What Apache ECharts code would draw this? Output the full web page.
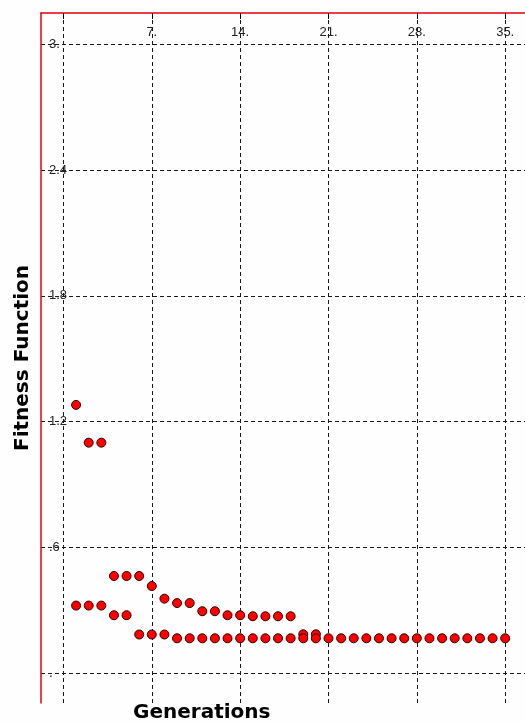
<!DOCTYPE html>
<html>
<head>
<meta charset="utf-8">
<script src="https://cdn.jsdelivr.net/npm/echarts@6/dist/echarts.min.js"></script>
<style>
  html, body { margin: 0; padding: 0; background: #fefefe; }
  #chart { width: 525px; height: 724px; }
</style>
</head>
<body>
<div id="chart"></div>
<script>
// Fitness per generation: two populations of points
const upperGenerations = [1, 2, 3, 4, 5, 6, 7, 8, 9, 10, 11, 12, 13, 14, 15, 16, 17, 18, 19, 20];
const upperFitness = [1.28, 1.10, 1.10, 0.464, 0.464, 0.464, 0.416, 0.356, 0.335, 0.335,
                      0.296, 0.296, 0.277, 0.277, 0.272, 0.272, 0.272, 0.272, 0.186, 0.186];

const lowerGenerations = [1, 2, 3, 4, 5, 6, 7, 8, 9, 10, 11, 12, 13, 14, 15, 16, 17, 18,
                          19, 20, 21, 22, 23, 24, 25, 26, 27, 28, 29, 30, 31, 32, 33, 34, 35];
const lowerFitness = [0.323, 0.323, 0.323, 0.277, 0.277, 0.185, 0.185, 0.185, 0.167, 0.167,
                      0.167, 0.167, 0.167, 0.167, 0.167, 0.167, 0.167, 0.167, 0.167, 0.167,
                      0.167, 0.167, 0.167, 0.167, 0.167, 0.167, 0.167, 0.167, 0.167, 0.167,
                      0.167, 0.167, 0.167, 0.167, 0.167];

// Axis ticks and their printed labels
const xTicks = [0, 7, 14, 21, 28, 35];
const xTickLabels = ['', '7.', '14.', '21.', '28.', '35.'];
const yTicks = [0, 0.6, 1.2, 1.8, 2.4, 3];
const yTickLabels = ['.', '.6', '1.2', '1.8', '2.4', '3.'];

function labelFor(ticks, labels) {
  return function (v) {
    let best = 0;
    for (let i = 1; i < ticks.length; i++) {
      if (Math.abs(ticks[i] - v) < Math.abs(ticks[best] - v)) best = i;
    }
    return labels[best];
  };
}

function pairs(xs, ys) {
  return xs.map((x, i) => [x, ys[i]]);
}

const axisRed = '#e3000f';
const gridDash = { color: '#1a1a1a', width: 1, type: [4, 3] };
const markerStyle = { color: '#ff0000', borderColor: '#300000', borderWidth: 1, opacity: 1 };

const chart = echarts.init(document.getElementById('chart'), null, { renderer: 'canvas' });
chart.setOption({
  animation: false,
  backgroundColor: '#fefefe',
  title: {
    text: 'Generations',
    left: 133,
    top: 703,
    padding: 0,
    textStyle: { fontFamily: 'DejaVu Sans', fontWeight: 'bold', fontSize: 20, color: '#000' }
  },
  grid: { left: 41, top: 13, right: 0, bottom: 21, containLabel: false },
  xAxis: {
    type: 'value',
    position: 'top',
    min: -1.78,
    max: 36.57,
    axisLine: { show: true, onZero: false, lineStyle: { color: axisRed, width: 1.5 } },
    axisTick: { show: true, inside: true, length: 6, customValues: xTicks, lineStyle: { color: '#000' } },
    axisLabel: {
      show: true, inside: true, margin: 13, customValues: xTicks,
      formatter: labelFor(xTicks, xTickLabels),
      fontFamily: 'Liberation Sans', fontSize: 13, color: '#222'
    },
    splitLine: { show: true, lineStyle: gridDash }
  },
  yAxis: {
    type: 'value',
    min: -0.1416,
    max: 3.149,
    name: 'Fitness Function',
    nameLocation: 'middle',
    nameGap: 8,
    nameRotate: 90,
    nameTextStyle: { fontFamily: 'DejaVu Sans', fontWeight: 'bold', fontSize: 20, color: '#000' },
    axisLine: { show: true, onZero: false, lineStyle: { color: axisRed, width: 1.5 } },
    axisTick: { show: false, customValues: yTicks },
    axisLabel: {
      show: true, inside: true, margin: 8, customValues: yTicks,
      formatter: labelFor(yTicks, yTickLabels),
      fontFamily: 'Liberation Sans', fontSize: 13, color: '#222'
    },
    splitLine: { show: true, lineStyle: gridDash }
  },
  series: [
    {
      name: 'upper',
      type: 'scatter',
      symbol: 'circle',
      symbolSize: 9,
      itemStyle: markerStyle,
      data: pairs(upperGenerations, upperFitness)
    },
    {
      name: 'lower',
      type: 'scatter',
      symbol: 'circle',
      symbolSize: 9,
      itemStyle: markerStyle,
      data: pairs(lowerGenerations, lowerFitness)
    }
  ]
});
</script>
</body>
</html>
